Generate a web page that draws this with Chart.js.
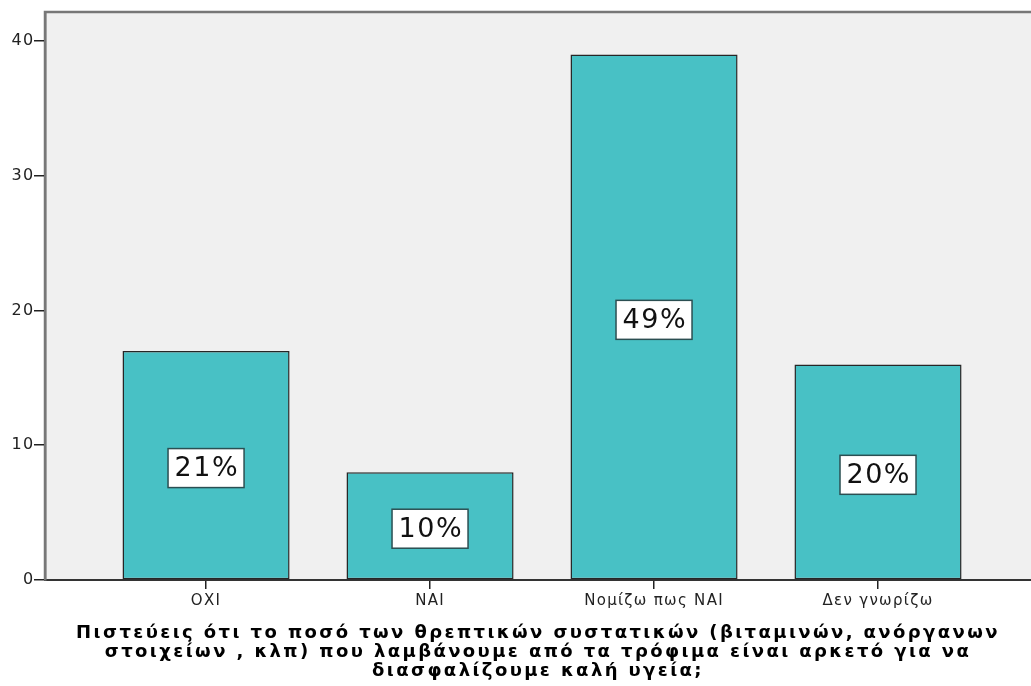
<!DOCTYPE html>
<html>
<head>
<meta charset="utf-8">
<script src="https://cdn.jsdelivr.net/npm/chart.js@4.4.0/dist/chart.umd.min.js"></script>
<style>
  html, body { margin: 0; padding: 0; background: #ffffff; }
</style>
</head>
<body>
<canvas id="chart" width="1031" height="686"></canvas>
<script>
const categories = ['ΟΧΙ', 'ΝΑΙ', 'Νομίζω πως ΝΑΙ', 'Δεν γνωρίζω'];
const counts = [17, 8, 39, 16];
const yTicks = [0, 10, 20, 30, 40];
const axisTitle = [
  'Πιστεύεις ότι το ποσό των θρεπτικών συστατικών (βιταμινών, ανόργανων',
  'στοιχείων , κλπ) που λαμβάνουμε από τα τρόφιμα είναι αρκετό για να',
  'διασφαλίζουμε καλή υγεία;'
];

const total = counts.reduce((a, b) => a + b, 0);
const FONT = '"DejaVu Sans", Verdana, sans-serif';
const TITLE_SPACING = 2.4;
const TICK_SPACING = 1.3;

// grey plot background and frame, drawn under the axes
const plotFrame = {
  id: 'plotFrame',
  beforeDraw(chart) {
    const { ctx, chartArea: a } = chart;
    // axis title is drawn with the grid layer, before the bars
    ctx.letterSpacing = TITLE_SPACING + 'px';
    ctx.save();
    ctx.fillStyle = '#f0f0f0';
    ctx.fillRect(a.left, a.top, a.right - a.left, a.bottom - a.top);
    ctx.strokeStyle = '#777777';
    ctx.lineWidth = 2.5;
    ctx.beginPath();
    ctx.moveTo(a.left, a.bottom);
    ctx.lineTo(a.left, a.top);
    ctx.lineTo(a.right, a.top);
    ctx.stroke();
    ctx.restore();
  }
};

// percentage boxes in the middle of each bar
const pctLabels = {
  id: 'pctLabels',
  afterDatasetsDraw(chart) {
    const { ctx } = chart;
    const meta = chart.getDatasetMeta(0);
    const sp = 1.5;
    ctx.save();
    ctx.letterSpacing = sp + 'px';
    ctx.font = '27px ' + FONT;
    ctx.textAlign = 'center';
    ctx.textBaseline = 'middle';
    meta.data.forEach((bar, i) => {
      const txt = Math.round(counts[i] / total * 100) + '%';
      const cx = bar.x;
      const cy = (bar.y + bar.base) / 2 + 3;
      const w = ctx.measureText(txt).width - sp + 13;
      const h = 39;
      ctx.fillStyle = '#ffffff';
      ctx.fillRect(cx - w / 2, cy - h / 2, w, h);
      ctx.strokeStyle = '#2b4f52';
      ctx.lineWidth = 1.5;
      ctx.strokeRect(cx - w / 2, cy - h / 2, w, h);
      ctx.fillStyle = '#111111';
      ctx.fillText(txt, cx + sp / 2, cy + 1);
    });
    ctx.restore();
    // tick labels (z: 1) come after this hook
    ctx.letterSpacing = TICK_SPACING + 'px';
  }
};

new Chart(document.getElementById('chart'), {
  type: 'bar',
  data: {
    datasets: [{
      data: counts.map((v, i) => ({ x: i, y: v })),
      backgroundColor: '#48c1c5',
      borderColor: '#262626',
      borderWidth: 1.5,
      borderSkipped: false,
      categoryPercentage: 1,
      barPercentage: 0.746
    }]
  },
  options: {
    responsive: false,
    devicePixelRatio: 1,
    animation: false,
    layout: { padding: { top: 12, right: 0, left: 0, bottom: 0 } },
    plugins: { legend: { display: false }, tooltip: { enabled: false } },
    scales: {
      x: {
        type: 'linear',
        min: -0.719,
        max: 3.683,
        offset: false,
        grid: { offset: false, drawOnChartArea: false, tickLength: 9, color: '#222222', lineWidth: 1.5 },
        border: { color: '#333333', width: 2 },
        ticks: {
          z: 1,
          stepSize: 1,
          includeBounds: false,
          autoSkip: false,
          maxRotation: 0,
          padding: 3,
          color: '#222222',
          font: { family: FONT, size: 15 },
          callback: v => categories[v] ?? ''
        },
        title: {
          display: true,
          text: axisTitle,
          color: '#000000',
          font: { family: FONT, size: 18, weight: 'bold', lineHeight: '18.75px' },
          padding: { top: 0, bottom: 5.6 }
        },
        afterFit: s => { s.height = 106; }
      },
      y: {
        min: 0,
        max: 42.15,
        afterBuildTicks: s => { s.ticks = yTicks.map(v => ({ value: v })); },
        grid: { drawOnChartArea: false, tickLength: 11, color: '#222222', lineWidth: 1.5 },
        border: { color: '#777777', width: 2.5 },
        ticks: { z: 1, padding: -0.5, color: '#222222', font: { family: FONT, size: 16 } },
        afterFit: s => { s.width = 45; }
      }
    }
  },
  plugins: [plotFrame, pctLabels]
});
</script>
</body>
</html>
